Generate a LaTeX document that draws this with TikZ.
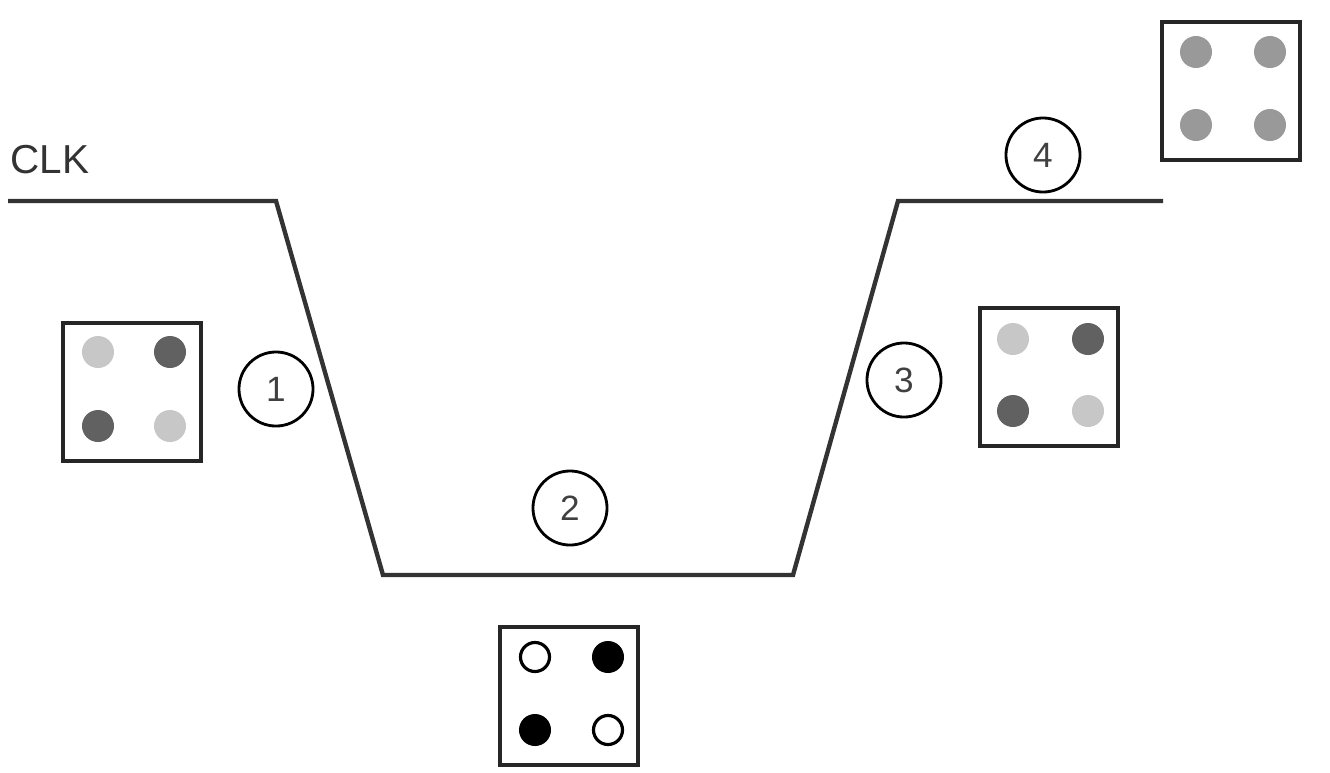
\documentclass[tikz,border=0pt]{standalone}
\usepackage{fontspec}
\setmainfont{Liberation Sans}
\usepackage{tikz}
\usetikzlibrary{positioning}

\definecolor{dotlight}{gray}{0.78}
\definecolor{dotdark}{gray}{0.38}
\definecolor{dotmid}{gray}{0.6}

\begin{document}
\begin{tikzpicture}[
        x=0.01cm, y=-0.01cm,
        wave/.style={line width=1.25pt, color=black!80},
        phase/.style={circle,draw,line width=0.8pt,minimum size=0.74cm,inner sep=0pt,text=black!75,font=\fontsize{10}{12}\selectfont},
        pad/.style={draw,line width=1pt,color=black!85,minimum size=1.38cm,inner sep=0pt},
        dot/.style={circle,fill=#1,minimum size=0.32cm,inner sep=0pt},
        ring/.style={circle,draw,line width=0.9pt,minimum size=0.29cm,inner sep=0pt},
      ]
      \useasboundingbox (0,0) rectangle (1330,772);

      % CLK waveform
      \node[anchor=base west,inner sep=0pt,font=\fontsize{11.5}{13}\selectfont,text=black!80] (clk) at (10,173) {CLK};
      \coordinate (w0) at (8,201);
      \coordinate (w1) at (276,201);
      \coordinate (w2) at (383,575);
      \coordinate (w3) at (793,575);
      \coordinate (w4) at (898,201);
      \coordinate (w5) at (1163,201);
      \draw[wave] (w0) -- (w1) -- (w2) -- (w3) -- (w4) -- (w5);

      % Phases
      \node[phase] (p1) at (276,389) {1};
      \node[phase] (p2) at (570,508) {2};
      \node[phase] (p3) at (904,380) {3};
      \node[phase] (p4) at (1043,155) {4};

      % Falling edge
      \node[pad] (b1) at (132,392) {};
      \node[dot=dotlight] (b1a) at (98,352) {};
      \node[dot=dotdark]  (b1b) at (170,352) {};
      \node[dot=dotdark]  (b1c) at (98,426) {};
      \node[dot=dotlight] (b1d) at (170,426) {};

      % Low
      \node[pad] (b2) at (569,696) {};
      \node[ring]          (b2a) at (535,657) {};
      \node[dot=black]     (b2b) at (608,657) {};
      \node[dot=black]     (b2c) at (535,730) {};
      \node[ring]          (b2d) at (608,730) {};

      % Rising edge
      \node[pad] (b3) at (1049,377) {};
      \node[dot=dotlight] (b3a) at (1013,339) {};
      \node[dot=dotdark]  (b3b) at (1088,339) {};
      \node[dot=dotdark]  (b3c) at (1013,411) {};
      \node[dot=dotlight] (b3d) at (1088,411) {};

      % High
      \node[pad] (b4) at (1231,91) {};
      \node[dot=dotmid] (b4a) at (1196,52) {};
      \node[dot=dotmid] (b4b) at (1270,52) {};
      \node[dot=dotmid] (b4c) at (1196,125) {};
      \node[dot=dotmid] (b4d) at (1270,125) {};
    \end{tikzpicture}
\end{document}
